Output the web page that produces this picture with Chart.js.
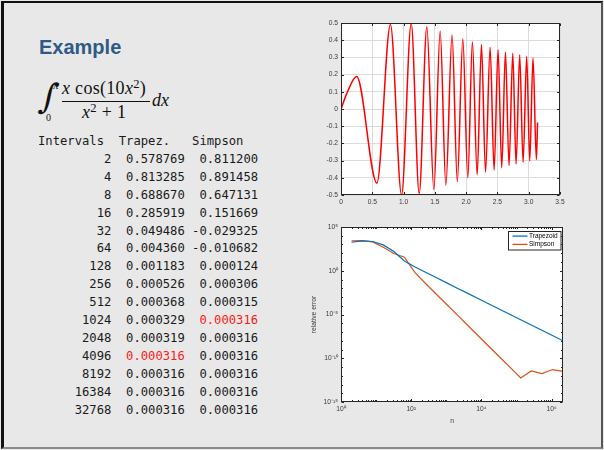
<!doctype html>
<html lang="en">
<head>
<meta charset="utf-8">
<title>Example</title>
<style>
  html, body { margin: 0; padding: 0; background: #e8e8e8; }
  #slide { position: absolute; left: 1px; top: 1px; width: 602px; height: 448px; box-sizing: border-box;
    background: #e8e8e8; border-left: 3px solid #111; border-top: 2px solid #111;
    border-right: 2px solid #555; border-bottom: 2px solid #8a8a8a; }
  .abs { position: absolute; white-space: nowrap; line-height: 1; }
  #title { left: 39px; top: 36px; font: bold 20px "Liberation Sans", Arial, sans-serif; color: #2e5a87; }
  .m { font-family: "Liberation Serif", "Times New Roman", serif; color: #111; }
  .m sup { font-size: 0.7em; vertical-align: 0.45em; line-height: 0; }
  #intsign { left: 40px; top: 79px; font-family: "DejaVu Serif", serif; font-size: 34px; transform: skewX(-10deg); }
  #upper { left: 53px; top: 80px; font-size: 11px; font-style: italic; }
  #lower { left: 46px; top: 113px; font-size: 10px; }
  #num { left: 62px; top: 79px; font-size: 18px; letter-spacing: 0.3px; }
  #bar { position: absolute; left: 62px; top: 101px; width: 88px; height: 1.4px; background: #111; }
  #den { left: 82px; top: 103px; font-size: 18px; letter-spacing: 0.3px; }
  #dx { left: 152px; top: 91px; font-size: 18px; }
  #table { position: absolute; left: 38px; top: 133px; margin: 0; font: 12.2px "DejaVu Sans Mono", monospace;
    line-height: 17.9px; color: #1a1a1a; }
  #table .hi { color: #ff1a1a; }
  canvas { position: absolute; }
</style>
</head>
<body>
<div id="slide"></div>
<div class="abs" id="title">Example</div>
<div class="abs m" id="intsign">∫</div>
<div class="abs m" id="upper">π</div>
<div class="abs m" id="lower">0</div>
<div class="abs m" id="num"><i>x</i> cos(10<i>x</i><sup>2</sup>)</div>
<div id="bar"></div>
<div class="abs m" id="den"><i>x</i><sup>2</sup> + 1</div>
<div class="abs m" id="dx"><i>dx</i></div>
<pre id="table"></pre>

<canvas id="wave" width="280" height="200" style="left:300px; top:10px"></canvas>
<canvas id="error" width="280" height="220" style="left:300px; top:215px"></canvas>

<script src="https://cdn.jsdelivr.net/npm/chart.js@4.4.2/dist/chart.umd.min.js"></script>
<script>
  // table on the left
  const intervals = [2, 4, 8, 16, 32, 64, 128, 256, 512, 1024, 2048, 4096, 8192, 16384, 32768];
  const trapez = [0.578769, 0.813285, 0.688670, 0.285919, 0.049486, 0.004360, 0.001183, 0.000526,
    0.000368, 0.000329, 0.000319, 0.000316, 0.000316, 0.000316, 0.000316];
  const simpson = [0.811200, 0.891458, 0.647131, 0.151669, -0.029325, -0.010682, 0.000124, 0.000306,
    0.000315, 0.000316, 0.000316, 0.000316, 0.000316, 0.000316, 0.000316];
  const trapezFirst = 4096;
  const simpsonFirst = 1024;

  // top plot: peaks and troughs of x*cos(10x^2)/(x^2+1)
  const waveX = [0, 0.1, 0.25, 0.574, 0.79, 0.968, 1.122, 1.25, 1.372, 1.484, 1.585, 1.676, 1.775, 1.859,
    1.947, 2.027, 2.10, 2.176, 2.245, 2.31, 2.383, 2.447, 2.51, 2.569, 2.628, 2.686, 2.745, 2.798, 2.856,
    2.91, 2.968, 3.016, 3.069, 3.122, 3.1416];
  const waveY = [0, 0.097, 0.189, -0.431, 0.491, -0.499, 0.497, -0.491, 0.478, -0.468, 0.452, -0.442, 0.43,
    -0.421, 0.407, -0.40, 0.39, -0.382, 0.374, -0.368, 0.359, -0.355, 0.345, -0.341, 0.331, -0.329, 0.324,
    -0.32, 0.316, -0.31, 0.306, -0.302, 0.296, -0.294, -0.078];

  // bottom plot: relative error vs n
  const nValues = [2, 4, 8, 16, 32, 64, 128, 256, 512, 1024, 2048, 4096, 8192, 16384, 32768, 65536,
    131072, 262144, 524288, 1048576, 2097152];
  const trapErr = [1.8e3, 2.6e3, 2.2e3, 9.0e2, 1.6e2, 13, 2.7, 0.66, 0.17, 4.1e-2, 1.0e-2, 2.6e-3, 6.4e-4,
    1.6e-4, 4.0e-5, 1.0e-5, 2.5e-6, 6.3e-7, 1.6e-7, 3.9e-8, 9.8e-9];
  const simpErr = [2.6e3, 2.8e3, 2.0e3, 4.8e2, 94, 35, 0.6, 3.5e-2, 2.2e-3, 1.4e-4, 8.9e-6, 5.6e-7, 3.5e-8,
    2.2e-9, 1.4e-10, 8.9e-12, 5.6e-13, 3.6e-12, 1.8e-12, 5.1e-12, 3.1e-12];
  const logXTicks = [1, 1e2, 1e4, 1e6];
  const logXLabels = ['10⁰', '10²', '10⁴', '10⁶'];
  const logYTicks = [1e-15, 1e-10, 1e-5, 1, 1e5];
  const logYLabels = ['10⁻¹⁵', '10⁻¹⁰', '10⁻⁵', '10⁰', '10⁵'];

  // build the table text
  let rows = ['Intervals  Trapez.   Simpson'];
  intervals.forEach((n, i) => {
    let t = trapez[i].toFixed(6);
    let s = simpson[i].toFixed(6).padStart(9);
    if (n === trapezFirst) t = '<span class="hi">' + t + '</span>';
    if (n === simpsonFirst) s = s.replace(/(\S+)/, '<span class="hi">$1</span>');
    rows.push(String(n).padStart(10) + '  ' + t + ' ' + s);
  });
  document.getElementById('table').innerHTML = rows.join('\n');

  Chart.defaults.font.family = '"Liberation Sans", Arial, sans-serif';
  Chart.defaults.font.size = 6.7;
  Chart.defaults.color = '#3a3a3a';

  // white axes area, black box and inward tick marks like matlab
  const frame = {
    id: 'frame',
    beforeDraw(chart) {
      const {ctx, chartArea: a} = chart;
      ctx.save();
      ctx.fillStyle = '#fff';
      ctx.fillRect(a.left, a.top, a.width, a.height);
      ctx.restore();
    },
    afterDraw(chart, args, opts) {
      const {ctx, chartArea: a, scales: {x, y}} = chart;
      const L = Math.round(a.left) + 0.5, R = Math.round(a.right) - 0.5;
      const T = Math.round(a.top) + 0.5, B = Math.round(a.bottom) - 0.5;
      ctx.save();
      ctx.strokeStyle = '#262626';
      ctx.lineWidth = 1;
      ctx.beginPath();
      const xt = (vals, len) => vals.forEach(v => {
        const p = Math.round(x.getPixelForValue(v)) + 0.5;
        ctx.moveTo(p, B); ctx.lineTo(p, B - len);
        ctx.moveTo(p, T); ctx.lineTo(p, T + len);
      });
      const yt = (vals, len) => vals.forEach(v => {
        const p = Math.round(y.getPixelForValue(v)) + 0.5;
        ctx.moveTo(L, p); ctx.lineTo(L + len, p);
        ctx.moveTo(R, p); ctx.lineTo(R - len, p);
      });
      xt(x.ticks.map(t => t.value), 2.5);
      yt(y.ticks.map(t => t.value), 2.5);
      xt(opts.xMinor || [], 1.5);
      yt(opts.yMinor || [], 1.5);
      ctx.stroke();
      ctx.strokeRect(L, T, R - L, B - T);
      ctx.restore();
    }
  };

  // legend box inside the top right corner
  const boxLegend = {
    id: 'boxLegend',
    afterDraw(chart) {
      const {ctx, chartArea: a} = chart;
      const w = 52.5, h = 18.5;
      const x0 = Math.round(a.right - 3 - w) + 0.5, y0 = Math.round(a.top + 4) + 0.5;
      ctx.save();
      ctx.fillStyle = '#fff';
      ctx.fillRect(x0, y0, w, h);
      ctx.strokeStyle = '#262626';
      ctx.lineWidth = 1;
      ctx.strokeRect(x0, y0, w, h);
      ctx.font = '6.5px "Liberation Sans", Arial, sans-serif';
      ctx.textBaseline = 'middle';
      chart.data.datasets.forEach((ds, i) => {
        const cy = y0 + 4.6 + i * 8.3;
        ctx.strokeStyle = ds.borderColor;
        ctx.lineWidth = 1.3;
        ctx.beginPath();
        ctx.moveTo(x0 + 4, cy); ctx.lineTo(x0 + 19, cy);
        ctx.stroke();
        ctx.fillStyle = '#000';
        ctx.fillText(ds.label, x0 + 20.5, cy);
      });
      ctx.restore();
    }
  };

  new Chart(document.getElementById('wave'), {
    type: 'line',
    data: {
      datasets: [{
        data: waveX.map((v, i) => ({x: v, y: waveY[i]})),
        borderColor: '#ff0000',
        borderWidth: 1.5,
        pointRadius: 0,
        cubicInterpolationMode: 'monotone',
        fill: false
      }]
    },
    options: {
      responsive: false,
      animation: false,
      layout: { padding: { left: 0, top: 13, right: 20, bottom: 0 } },
      scales: {
        x: {
          type: 'linear', min: 0, max: 3.5,
          ticks: { stepSize: 0.5, padding: 3, maxRotation: 0 },
          grid: { color: '#dcdcdc', drawTicks: false },
          border: { display: false },
          afterFit: s => { s.height = 15; }
        },
        y: {
          min: -0.5, max: 0.5,
          ticks: { stepSize: 0.1, padding: 3 },
          grid: { color: '#dcdcdc', drawTicks: false },
          border: { display: false },
          afterFit: s => { s.width = 41; }
        }
      },
      plugins: { legend: { display: false }, tooltip: { enabled: false } }
    },
    plugins: [frame]
  });

  // minor tick spots for the log axes
  const xMinor = [];
  for (let k = 0; k <= 6; k++) {
    for (let m = 1; m <= 9; m++) {
      const v = m * Math.pow(10, k);
      if (v <= 2097152 && !logXTicks.includes(v)) xMinor.push(v);
    }
  }
  const yMinor = [];
  for (let k = -14; k <= 4; k++) {
    if (k % 5 !== 0) yMinor.push(Math.pow(10, k));
  }

  new Chart(document.getElementById('error'), {
    type: 'line',
    data: {
      datasets: [{
        label: 'Trapezoid',
        data: nValues.map((n, i) => ({x: n, y: trapErr[i]})),
        borderColor: '#0072bd',
        borderWidth: 1.2,
        pointRadius: 0,
        tension: 0
      }, {
        label: 'Simpson',
        data: nValues.map((n, i) => ({x: n, y: simpErr[i]})),
        borderColor: '#d95319',
        borderWidth: 1.2,
        pointRadius: 0,
        tension: 0
      }]
    },
    options: {
      responsive: false,
      animation: false,
      layout: { padding: { left: 0, top: 12, right: 17, bottom: 0 } },
      scales: {
        x: {
          type: 'logarithmic', min: 1, max: 2097152,
          afterBuildTicks: s => { s.ticks = logXTicks.map(v => ({value: v})); },
          ticks: { autoSkip: false, maxRotation: 0, padding: 3, callback: (v, i) => logXLabels[i] },
          grid: { display: false, drawTicks: false },
          border: { display: false },
          title: { display: true, text: 'n', font: { size: 6.7 }, padding: { top: 0, bottom: 9.4 } },
          afterFit: s => { s.height = 33; }
        },
        y: {
          type: 'logarithmic', min: 1e-15, max: 1e5,
          afterBuildTicks: s => { s.ticks = logYTicks.map(v => ({value: v})); },
          ticks: { autoSkip: false, padding: 3, callback: (v, i) => logYLabels[i] },
          grid: { display: false, drawTicks: false },
          border: { display: false },
          title: { display: true, text: 'relative error', font: { size: 6.7 }, padding: { top: 10, bottom: 0 } },
          afterFit: s => { s.width = 41; }
        }
      },
      plugins: {
        legend: { display: false },
        tooltip: { enabled: false },
        frame: { xMinor: xMinor, yMinor: yMinor }
      }
    },
    plugins: [frame, boxLegend]
  });
</script>
</body>
</html>
